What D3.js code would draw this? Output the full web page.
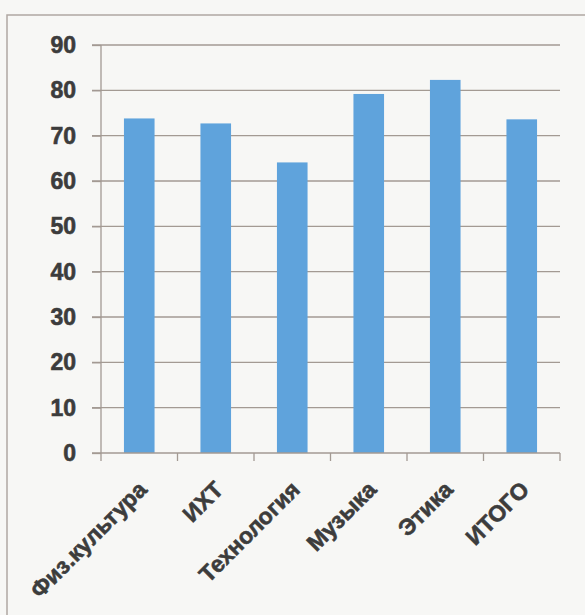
<!DOCTYPE html>
<html lang="ru">
<head>
    <meta charset="UTF-8">
    <title>Столбчатая диаграмма</title>
    <script src="https://d3js.org/d3.v7.min.js"></script>
    <style>
        body { margin: 0; background: #f7f7f5; }
        .grid line { stroke: #a39a93; stroke-width: 1.3; }
        .axis path, .axis line { stroke: #a39a93; stroke-width: 1.3; }
        .axis text {
            font-family: "Liberation Sans", Arial, sans-serif;
            font-weight: bold;
            fill: #3c3c3c;
            stroke: #3c3c3c;
            stroke-width: 0.6;
        }
        .bar { fill: #5fa3dc; }
    </style>
</head>
<body>
<svg width="585" height="615"></svg>
<script>
    // Данные диаграммы
    const categories = ["Физ.культура", "ИХТ", "Технология", "Музыка", "Этика", "ИТОГО"];
    const values = [73.8, 72.7, 64.1, 79.2, 82.3, 73.6];
    const yTicks = [0, 10, 20, 30, 40, 50, 60, 70, 80, 90];

    const svg = d3.select("svg"),
        margin = {top: 45, right: 25, bottom: 162, left: 101},
        width = +svg.attr("width") - margin.left - margin.right,
        height = +svg.attr("height") - margin.top - margin.bottom;

    // Рамка диаграммы
    svg.append("rect")
        .attr("x", 7).attr("y", 15)
        .attr("width", 600).attr("height", 640)
        .attr("fill", "none")
        .attr("stroke", "#b0a8a2")
        .attr("stroke-width", 1.5);

    const x = d3.scaleBand()
        .domain(categories)
        .range([0, width])
        .paddingInner(0.6)
        .paddingOuter(0.3);

    const y = d3.scaleLinear()
        .domain([0, 90])
        .range([height, 0]);

    const g = svg.append("g")
        .attr("transform", `translate(${margin.left},${margin.top})`);

    // Сетка
    g.append("g")
        .attr("class", "grid")
        .selectAll("line")
        .data(yTicks.filter(d => d > 0))
        .join("line")
        .attr("x1", -9).attr("x2", width)
        .attr("y1", d => y(d)).attr("y2", d => y(d));

    // Столбцы
    g.selectAll(".bar")
        .data(values)
        .join("rect")
        .attr("class", "bar")
        .attr("x", (d, i) => x(categories[i]))
        .attr("y", d => y(d))
        .attr("width", x.bandwidth())
        .attr("height", d => height - y(d));

    // Ось Y
    const yAxis = g.append("g")
        .attr("class", "axis")
        .call(d3.axisLeft(y).tickValues(yTicks).tickSize(9).tickSizeOuter(0).tickPadding(16));
    yAxis.select(".domain").remove();
    yAxis.append("line").attr("y1", 0).attr("y2", height);
    yAxis.selectAll("text").style("font-size", "23px");

    // Ось X: деления на границах категорий
    const step = x.step();
    const xAxis = g.append("g")
        .attr("class", "axis")
        .attr("transform", `translate(0,${height})`);
    xAxis.append("line").attr("x1", -9).attr("x2", width);
    xAxis.selectAll(".tk")
        .data(d3.range(categories.length + 1))
        .join("line")
        .attr("class", "tk")
        .attr("x1", i => i * step).attr("x2", i => i * step)
        .attr("y1", 0).attr("y2", 8);
    xAxis.selectAll("text")
        .data(categories)
        .join("text")
        .attr("text-anchor", "end")
        .attr("transform", d => `translate(${x(d) + x.bandwidth() / 2 + 9},${38}) rotate(-45)`)
        .style("font-size", "23px")
        .text(d => d);
</script>
</body>
</html>
